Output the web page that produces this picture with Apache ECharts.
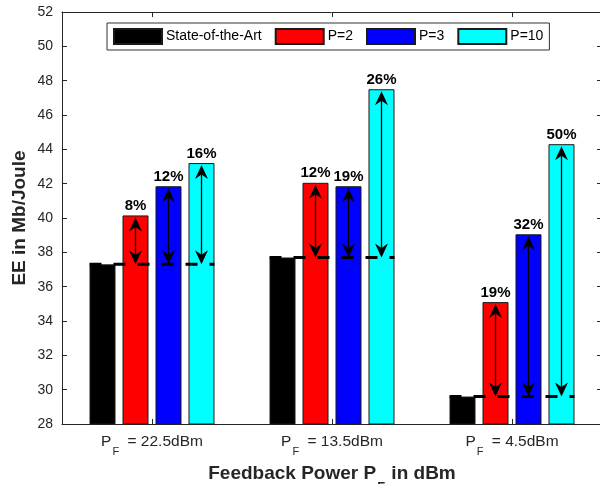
<!DOCTYPE html>
<html>
<head>
<meta charset="utf-8">
<script src="https://cdn.jsdelivr.net/npm/echarts@6/dist/echarts.min.js"></script>
<style>
  html, body { margin: 0; padding: 0; background: #fff; }
  #chart { width: 600px; height: 484px; }
</style>
</head>
<body>
<div id="chart"></div>
<script>
// ---- data ----
const categories = ['22.5', '13.5', '4.5'];          // feedback power P_F in dBm
const seriesNames = ['State-of-the-Art', 'P=2', 'P=3', 'P=10'];
const stateOfArt = [37.3, 37.7, 29.6];
const p2 = [40.15, 42.05, 35.1];
const p3 = [41.85, 41.85, 39.05];
const p10 = [43.2, 47.5, 44.3];
const p2Gain = ['8%', '12%', '19%'];
const p3Gain = ['12%', '19%', '32%'];
const p10Gain = ['16%', '26%', '50%'];
const yTicks = { min: 28, max: 52, interval: 2 };

// ---- styling constants ----
const FONT = 'Liberation Sans, Arial, Helvetica, sans-serif';
const AX = '#262626';
const BAR_W = 26, BAR_GAP = 7;
const HW = 6.5, HL = 14, HN = 9.5;   // arrow head half-width, length, notch
const colors = ['#000000', '#ff0000', '#0000ff', '#00ffff'];

const gains = [null, p2Gain, p3Gain, p10Gain];
const values = [stateOfArt, p2, p3, p10];

const barSeries = values.map((vals, s) => ({
  name: seriesNames[s],
  type: 'bar',
  data: vals,
  barWidth: BAR_W,
  barGap: (BAR_GAP / BAR_W * 100).toFixed(1) + '%',
  itemStyle: { color: colors[s], borderColor: '#1a1a1a', borderWidth: 1 },
  label: gains[s] ? {
    show: true, position: 'top', distance: 2,
    fontFamily: FONT, fontWeight: 'bold', fontSize: 15, color: '#000',
    formatter: p => gains[s][p.dataIndex]
  } : { show: false },
  z: 2
}));

// arrows: [category, slot, base, top]
const arrowData = [];
[p2, p3, p10].forEach((vals, k) => {
  vals.forEach((v, i) => arrowData.push([i, k + 1, stateOfArt[i], v]));
});
const baseData = stateOfArt.map((v, i) => [i, v]);

function renderArrow(params, api) {
  const cat = api.value(0), slot = api.value(1);
  const b = api.coord([cat, api.value(2)]);
  const t = api.coord([cat, api.value(3)]);
  const x = b[0] + (slot - 1.5) * (BAR_W + BAR_GAP);
  const yb = b[1], yt = t[1] + 2;
  return {
    type: 'group',
    children: [
      { type: 'line', shape: { x1: x, y1: yt + HN, x2: x, y2: yb - HN },
        style: { stroke: '#000', lineWidth: 1.3 } },
      { type: 'polygon', shape: { points: [[x, yt], [x - HW, yt + HL], [x, yt + HN], [x + HW, yt + HL]] },
        style: { fill: '#000' } },
      { type: 'polygon', shape: { points: [[x, yb], [x - HW, yb - HL], [x, yb - HN], [x + HW, yb - HL]] },
        style: { fill: '#000' } }
    ]
  };
}

function renderBase(params, api) {
  const p = api.coord([api.value(0), api.value(1)]);
  const half = (4 * BAR_W + 3 * BAR_GAP) / 2;
  return {
    type: 'line',
    shape: { x1: p[0] - half, y1: p[1], x2: p[0] + half, y2: p[1] },
    style: { stroke: '#000', lineWidth: 3, lineDash: [12, 12] }
  };
}

const chart = echarts.init(document.getElementById('chart'), null, { renderer: 'canvas' });
chart.setOption({
  animation: false,
  backgroundColor: '#fff',
  textStyle: { fontFamily: FONT },
  grid: { left: 62, right: -2, top: 12, bottom: 60, containLabel: false, outerBoundsMode: 'none' },
  legend: {
    data: seriesNames,
    left: 107, top: 23,
    orient: 'horizontal',
    itemWidth: 48, itemHeight: 15, itemGap: 13,
    padding: [5, 6],
    icon: 'rect',
    borderColor: '#333', borderWidth: 1, backgroundColor: '#fff',
    textStyle: { fontFamily: FONT, fontSize: 14, color: '#000', padding: [0, 0, 0, -1] }
  },
  xAxis: [{
    type: 'category',
    data: categories,
    position: 'bottom',
    axisLine: { show: true, lineStyle: { color: AX, width: 1 } },
    axisTick: { show: true, inside: true, alignWithLabel: true, length: 5, lineStyle: { color: AX } },
    splitLine: { show: false },
    axisLabel: {
      margin: 10,
      color: AX,
      formatter: v => '{n|P}{s|F}{n| = ' + v + 'dBm}',
      rich: {
        n: { fontFamily: FONT, fontSize: 15.5, color: AX, lineHeight: 16, verticalAlign: 'top' },
        s: { fontFamily: FONT, fontSize: 11, color: AX, lineHeight: 10, verticalAlign: 'top', padding: [12.5, 4, 0, 1] }
      }
    },
    name: '{n|Feedback Power P}{s|F}{n| in dBm}',
    nameLocation: 'middle',
    nameGap: 40,
    nameMoveOverlap: false,
    nameTextStyle: {
      rich: {
        n: { fontFamily: FONT, fontSize: 19, fontWeight: 'bold', color: AX, lineHeight: 22, verticalAlign: 'top' },
        s: { fontFamily: FONT, fontSize: 13, fontWeight: 'bold', color: AX, lineHeight: 13, verticalAlign: 'top', padding: [17, 1, 0, 1] }
      }
    }
  }, {
    type: 'category',
    data: categories,
    position: 'top',
    axisLine: { show: true, lineStyle: { color: AX, width: 1 } },
    axisTick: { show: true, inside: true, alignWithLabel: true, length: 5, lineStyle: { color: AX } },
    axisLabel: { show: false },
    splitLine: { show: false }
  }],
  yAxis: [{
    type: 'value',
    min: yTicks.min, max: yTicks.max, interval: yTicks.interval,
    position: 'left',
    axisLine: { show: true, lineStyle: { color: AX, width: 1 } },
    axisTick: { show: true, inside: true, length: 5, lineStyle: { color: AX } },
    splitLine: { show: false },
    axisLabel: { margin: 9, fontFamily: FONT, fontSize: 14, color: AX },
    name: 'EE in Mb/Joule',
    nameLocation: 'middle',
    nameGap: 33,
    nameMoveOverlap: false,
    nameTextStyle: { fontFamily: FONT, fontSize: 19, fontWeight: 'bold', color: AX }
  }, {
    type: 'value',
    min: yTicks.min, max: yTicks.max, interval: yTicks.interval,
    position: 'right',
    axisLine: { show: true, lineStyle: { color: AX, width: 1 } },
    axisTick: { show: true, inside: true, length: 5, lineStyle: { color: AX } },
    splitLine: { show: false },
    axisLabel: { show: false }
  }],
  series: barSeries.concat([
    {
      type: 'custom',
      name: 'baseline',
      renderItem: renderBase,
      data: baseData,
      encode: { x: 0, y: 1 },
      z: 5,
      silent: true
    },
    {
      type: 'custom',
      name: 'arrows',
      renderItem: renderArrow,
      data: arrowData,
      encode: { x: 0, y: [2, 3] },
      z: 6,
      silent: true
    }
  ])
});
</script>
</body>
</html>
